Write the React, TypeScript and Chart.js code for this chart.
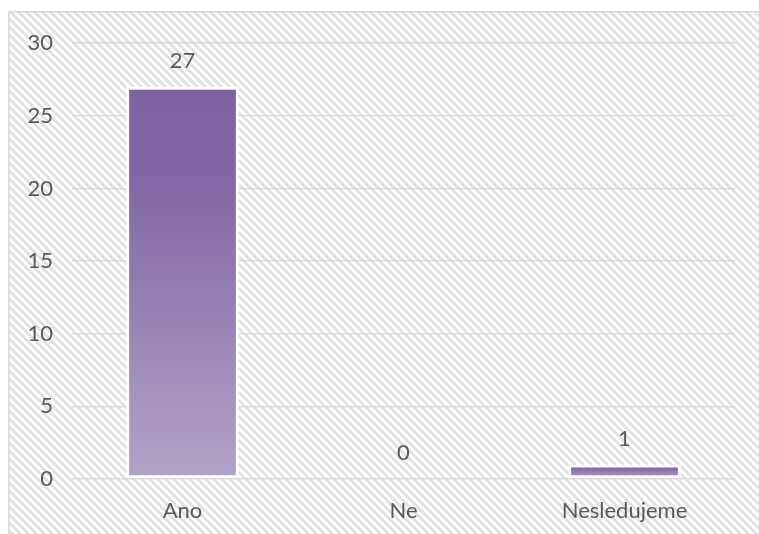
import React, { useEffect, useRef } from "react";
import { Chart, registerables } from "chart.js";

Chart.register(...registerables);

const categories = ["Ano", "Ne", "Nesledujeme"];
const values = [27, 0, 1];
const yMin = 0;
const yMax = 30;
const yStep = 5;

const W = 751;
const H = 523;
const FONT = "Lato, 'Open Sans', sans-serif";
const TEXT = "#595959";

function makePattern(ctx: CanvasRenderingContext2D) {
  const c = document.createElement("canvas");
  c.width = 8;
  c.height = 8;
  const p = c.getContext("2d")!;
  p.fillStyle = "#ffffff";
  p.fillRect(0, 0, 8, 8);
  p.fillStyle = "#e2e2e2";
  for (let y = 0; y < 8; y++) {
    for (let x = 0; x < 8; x++) {
      if ((((x - y) % 8) + 8) % 8 < 4) p.fillRect(x, y, 1, 1);
    }
  }
  return ctx.createPattern(c, "repeat");
}

const bgPlugin = {
  id: "bgPlugin",
  beforeDraw(chart: any) {
    const ctx = chart.ctx as CanvasRenderingContext2D;
    ctx.save();
    ctx.fillStyle = "#ffffff";
    ctx.fillRect(0, 0, chart.width, chart.height);
    const pat = makePattern(ctx);
    if (pat) {
      ctx.fillStyle = pat;
      ctx.fillRect(0, 0, chart.width, chart.height);
    }
    ctx.strokeStyle = "#d9d9d9";
    ctx.lineWidth = 1.5;
    ctx.strokeRect(0.75, 0.75, chart.width + 10, chart.height + 10);
    ctx.restore();
  },
};

const labelPlugin = {
  id: "labelPlugin",
  afterDatasetsDraw(chart: any) {
    const ctx = chart.ctx as CanvasRenderingContext2D;
    const meta = chart.getDatasetMeta(0);
    const ys = chart.scales.y;
    ctx.save();
    ctx.fillStyle = TEXT;
    ctx.font = `22px ${FONT}`;
    ctx.textAlign = "center";
    ctx.textBaseline = "middle";
    meta.data.forEach((el: any, i: number) => {
      const v = values[i];
      const y = ys.getPixelForValue(v) - 26;
      ctx.fillText(String(v), el.x, y);
    });
    ctx.restore();
  },
};

export default function App() {
  const ref = useRef<HTMLCanvasElement | null>(null);

  useEffect(() => {
    if (!ref.current) return;
    const chart = new Chart(ref.current, {
      type: "bar",
      data: {
        labels: categories,
        datasets: [
          {
            data: values,
            backgroundColor: (c: any) => {
              const chart = c.chart;
              const ys = chart.scales && chart.scales.y;
              if (!ys || c.type !== "data") return "#8064a2";
              const v = values[c.dataIndex];
              const top = ys.getPixelForValue(v);
              const bot = ys.getPixelForValue(0);
              if (!isFinite(top) || !isFinite(bot) || bot - top < 1) return "#8064a2";
              const g = chart.ctx.createLinearGradient(0, top, 0, bot);
              g.addColorStop(0, "#7d61a0");
              g.addColorStop(0.25, "#8368a5");
              g.addColorStop(1, "#b3a3c8");
              return g;
            },
            borderColor: "#ffffff",
            borderWidth: 3,
            borderSkipped: false,
            categoryPercentage: 1,
            barPercentage: 0.51,
          },
        ],
      },
      options: {
        responsive: false,
        animation: false,
        layout: { padding: { left: 0, top: 30, right: 24, bottom: 0 } },
        plugins: {
          legend: { display: false },
          tooltip: { enabled: false },
        },
        scales: {
          x: {
            grid: { display: false, drawTicks: false },
            border: { display: false },
            ticks: {
              color: TEXT,
              font: { family: FONT, size: 22 },
              padding: 19,
            },
            afterFit: (s: any) => {
              s.height = 55;
            },
          },
          y: {
            min: yMin,
            max: yMax,
            grid: { color: "#d9d9d9", lineWidth: 1.5, drawTicks: false },
            border: { display: false },
            ticks: {
              stepSize: yStep,
              color: TEXT,
              font: { family: FONT, size: 22 },
              padding: 19,
            },
            afterFit: (s: any) => {
              s.width = 64;
            },
          },
        },
      },
      plugins: [bgPlugin, labelPlugin],
    });
    return () => chart.destroy();
  }, []);

  return (
    <div
      style={{
        position: "fixed",
        left: 8,
        top: 11,
        width: W,
        height: H,
        overflow: "hidden",
      }}
    >
      <canvas ref={ref} width={W} height={H} style={{ display: "block" }} />
    </div>
  );
}
